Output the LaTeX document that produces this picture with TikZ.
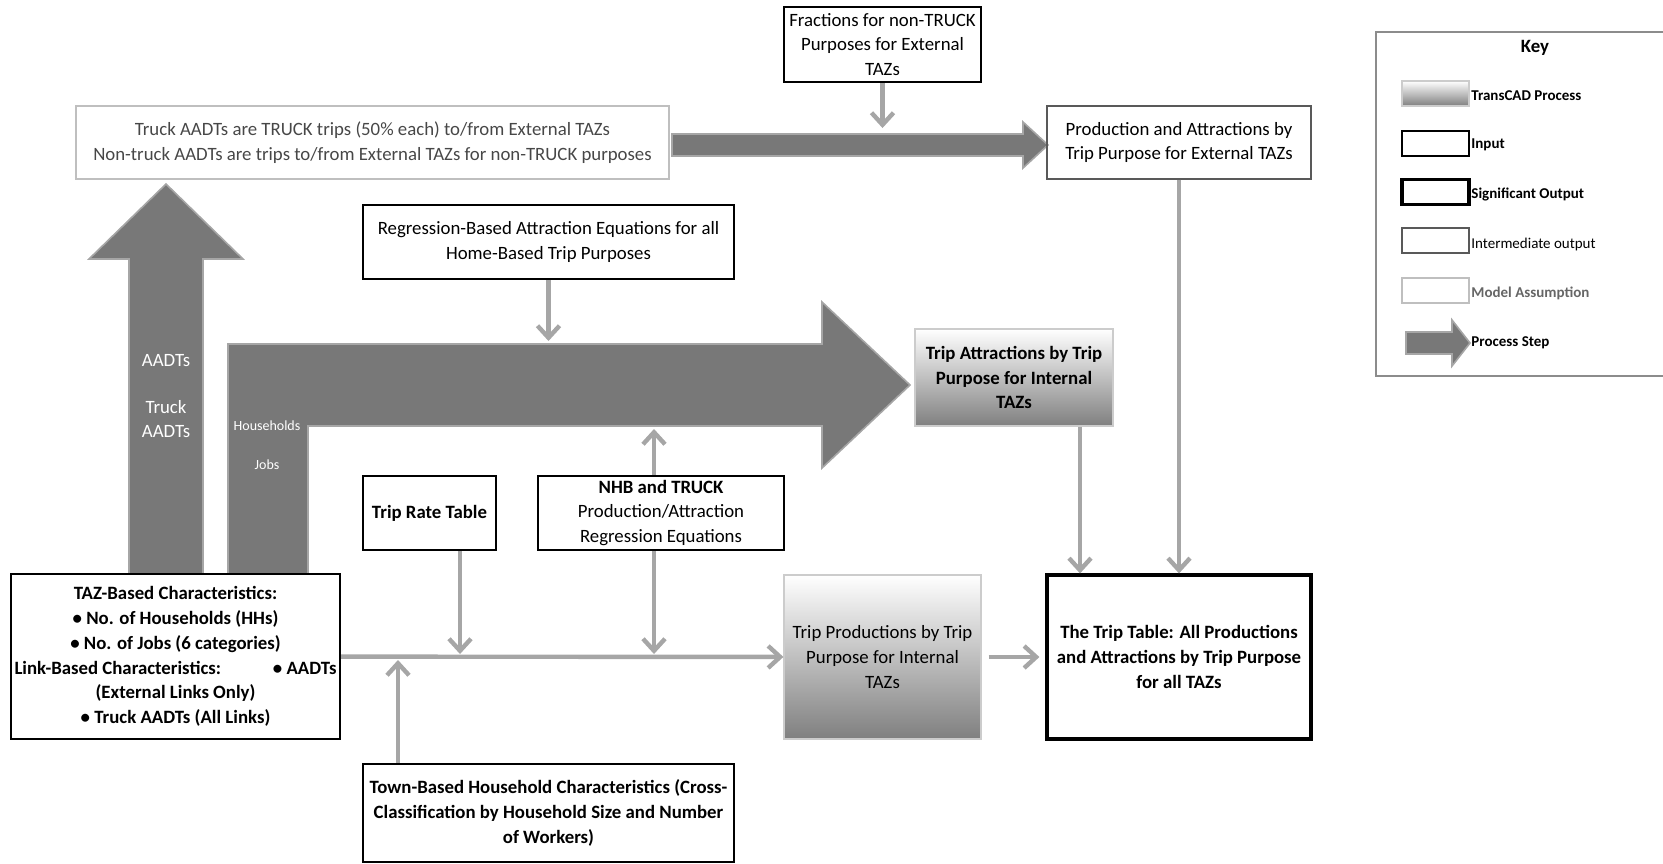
\documentclass[tikz,border=0pt]{standalone}
\usepackage{fontspec}
\setmainfont{Carlito}
\usetikzlibrary{arrows.meta}
\tikzstyle{assumption} = [rectangle, draw=black!25, line width=0.6pt, text=black!72, align=center, inner sep=0pt]
\tikzstyle{input} = [rectangle, draw=black, line width=1.1pt, align=center, inner sep=0pt]
\tikzstyle{sigoutput} = [rectangle, draw=black, line width=1.6pt, align=center, inner sep=0pt, font=\bfseries]
\tikzstyle{interout} = [rectangle, draw=black!65, line width=0.6pt, align=center, inner sep=0pt]
\tikzstyle{process} = [rectangle, draw=black!20, line width=0.6pt, top color=white, bottom color=black!50, align=center, inner sep=0pt]
\tikzstyle{bigstep} = [fill=black!53, draw=black!35, line width=0.8pt]
\tikzstyle{steptext} = [text=white, align=center, inner sep=0pt]
\tikzstyle{keytext} = [anchor=west, inner sep=0pt, font=\fontsize{7.5}{9}\selectfont\bfseries]
\tikzstyle{arrow} = [line width=2.2pt, draw=black!35, -{Straight Barb[length=6pt, width=11pt]}]
\begin{document}
\fontsize{9.4}{12.4}\selectfont
\begin{tikzpicture}[x=0.5pt, y=-0.5pt]
\useasboundingbox (0,0) rectangle (1663,863);
% process steps
\filldraw [bigstep] (129,574) -- (129,259) -- (89,259) -- (166,184) -- (243,259) -- (203,259) -- (203,574) -- cycle;
\filldraw [bigstep] (228,574) -- (228,344) -- (822,344) -- (822,302) -- (910,385) -- (822,468) -- (822,426) -- (308,426) -- (308,574) -- cycle;
\filldraw [bigstep] (672,134) -- (1023,134) -- (1023,122) -- (1048,145) -- (1023,168) -- (1023,156) -- (672,156) -- cycle;
\node (aadt) [steptext] at (166,361) {AADTs};
\node (truck) [steptext] at (166,419) {Truck\\AADTs};
\node (hh) [steptext, font=\fontsize{7}{8}\selectfont] at (267,426) {Households};
\node (jobs) [steptext, font=\fontsize{7}{8}\selectfont] at (267,465) {Jobs};
% boxes
\node (fractions) [input, minimum width=98.5pt, minimum height=37.5pt] at (882.5,44.5) {Fractions for non-TRUCK\\Purposes for External\\TAZs};
\node (truckaadt) [assumption, minimum width=296.5pt, minimum height=36.5pt] at (372.5,142.5) {Truck AADTs are TRUCK trips (50\% each) to/from External TAZs\\Non-truck AADTs are trips to/from External TAZs for non-TRUCK purposes};
\node (extpa) [interout, minimum width=132pt, minimum height=36.5pt] at (1179,142.5) {Production and Attractions by\\Trip Purpose for External TAZs};
\node (regr) [input, minimum width=185.5pt, minimum height=37pt] at (548.5,242) {Regression-Based Attraction Equations for all\\Home-Based Trip Purposes};
\node (attr) [process, font=\bfseries, minimum width=99pt, minimum height=48.5pt] at (1014,377.5) {Trip Attractions by Trip\\Purpose for Internal\\TAZs};
\node (triprate) [input, font=\bfseries, minimum width=66.5pt, minimum height=37pt] at (429.5,513) {Trip Rate Table};
\node (nhb) [input, minimum width=123pt, minimum height=37pt] at (661,513) {\textbf{NHB and TRUCK}\\Production/Attraction\\Regression Equations};
\node (taz) [input, font=\bfseries, minimum width=164.5pt, minimum height=82.5pt] at (175.5,656.5) {TAZ-Based Characteristics:\\\textbullet{} No. of Households (HHs)\\\textbullet{} No. of Jobs (6 categories)\\\makebox[161pt]{Link-Based Characteristics:\hfill\textbullet{} AADTs}\\(External Links Only)\\\textbullet{} Truck AADTs (All Links)};
\node (prod) [process, minimum width=98.5pt, minimum height=82pt] at (882.5,657) {Trip Productions by Trip\\Purpose for Internal\\TAZs};
\node (triptable) [sigoutput, minimum width=132pt, minimum height=82pt] at (1179,657) {The Trip Table: All Productions\\and Attractions by Trip Purpose\\for all TAZs};
\node (town) [input, font=\bfseries, minimum width=185.5pt, minimum height=49pt] at (548.5,813) {Town-Based Household Characteristics (Cross-\\Classification by Household Size and Number\\of Workers)};
% connectors
\coordinate (fracend) at (882.5,128);
\coordinate (regrend) at (548.5,341);
\coordinate (nhbup) at (654,429);
\coordinate (nhbdown) at (654,654);
\coordinate (rateend) at (460,654);
\coordinate (townend) at (398,660);
\draw [arrow] (fractions) -- (fracend);
\draw [arrow] (regr) -- (regrend);
\draw [arrow] (nhb.north -| nhbup) -- (nhbup);
\draw [arrow] (nhb.south -| nhbdown) -- (nhbdown);
\draw [arrow] (triprate.south -| rateend) -- (rateend);
\draw [arrow] (town.north -| townend) -- (townend);
\draw [arrow] (taz) -- (prod);
\draw [arrow, shorten <=3.5pt, shorten >=3pt] (prod) -- (triptable);
\draw [arrow] ([xshift=33pt]attr.south) -- ([xshift=33pt]attr.south |- triptable.north);
\draw [arrow] (extpa) -- (triptable);
% key
\draw [draw=black!45, line width=0.6pt] (1670,32) -- (1376,32) -- (1376,376) -- (1670,376);
\node (keytitle) [font=\bfseries] at (1535,48) {Key};
\node (kproc) [process, minimum width=33.5pt, minimum height=12.5pt] at (1435.5,93.5) {};
\node (kinput) [input, minimum width=33.5pt, minimum height=12.5pt] at (1435.5,143.5) {};
\node (ksig) [sigoutput, minimum width=33.5pt, minimum height=12.5pt] at (1435.5,192) {};
\node (kinter) [interout, minimum width=33.5pt, minimum height=12.5pt] at (1435.5,240.5) {};
\node (kassum) [assumption, minimum width=33.5pt, minimum height=12.5pt] at (1435.5,290.5) {};
\filldraw [bigstep] (1406,332) -- (1452,332) -- (1452,320) -- (1470,343) -- (1452,366) -- (1452,354) -- (1406,354) -- cycle;
\node (kproctext) [keytext] at (1471,96) {TransCAD Process};
\node (kinputtext) [keytext] at (1471,145) {Input};
\node (ksigtext) [keytext] at (1471,194) {Significant Output};
\node (kintertext) [keytext, font=\fontsize{7.5}{9}\selectfont] at (1471,244) {Intermediate output};
\node (kassumtext) [keytext, text=black!60] at (1471,293) {Model Assumption};
\node (ksteptext) [keytext] at (1471,343) {Process Step};
\end{tikzpicture}
\end{document}
